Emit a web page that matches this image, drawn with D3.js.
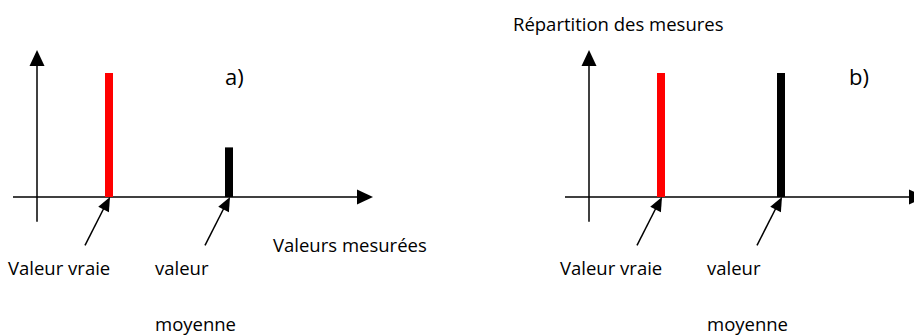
<!DOCTYPE html>
<html>
<head>
<meta charset="utf-8">
<script src="https://cdn.jsdelivr.net/npm/d3@7"></script>
<style>
  body { margin: 0; background: #fff; }
  text { font-family: "Open Sans", Lato, sans-serif; fill: #000; }
</style>
</head>
<body>
<div id="chart"></div>
<script>
// measured values: true value and mean value positions on the x axis, bar heights per panel
let categories = ["Valeur vraie", "valeur moyenne"];
let positions = [3, 8];
let colors = ["#ff0000", "#000000"];
let heights_a = [1, 0.4];
let heights_b = [1, 1];
let panels = ["a)", "b)"];

let config_size = {
    svg_width: 914,
    svg_height: 335,
    panel_left: [37, 589],
    panel_label_x: [188, 260],
    axis_y: 197,
    font: 18.5,
};

let svg = d3.select("#chart").append("svg")
    .attr("width", config_size.svg_width).attr("height", config_size.svg_height);

let x = d3.scaleLinear().domain([0, 15]).range([0, 360]);
let y = d3.scaleLinear().domain([0, 1]).range([0, -124]);

function arrowHead(g, x1, y1, x2, y2, len, half) {
    let a = Math.atan2(y2 - y1, x2 - x1);
    let bx = x2 - len * Math.cos(a), by = y2 - len * Math.sin(a);
    let px = -Math.sin(a) * half, py = Math.cos(a) * half;
    g.append("path")
        .attr("d", `M${x2},${y2}L${bx + px},${by + py}L${bx - px},${by - py}Z`)
        .attr("fill", "#000");
}

function drawPanel(i, heights) {
    let g = svg.append("g")
        .attr("transform", `translate(${config_size.panel_left[i]},${config_size.axis_y})`);

    // x axis
    g.append("line").attr("x1", x(-1)).attr("x2", x(14) - 10)
        .attr("y1", 0).attr("y2", 0).attr("stroke", "#000").attr("stroke-width", 1.5);
    arrowHead(g, x(-1), 0, x(14), 0, 16, 7.5);
    // y axis
    g.append("line").attr("x1", 0).attr("x2", 0)
        .attr("y1", y(-0.2)).attr("y2", y(1.185) + 10).attr("stroke", "#000").attr("stroke-width", 1.5);
    arrowHead(g, 0, y(-0.2), 0, y(1.185), 16, 7.5);

    // bars
    g.selectAll("rect.bar").data(heights).join("rect").classed("bar", true)
        .attr("x", (d, j) => x(positions[j]) - 4)
        .attr("width", 8)
        .attr("y", d => y(d))
        .attr("height", d => -y(d))
        .attr("fill", (d, j) => colors[j]);

    // pointer arrows
    positions.forEach(p => {
        let x1 = x(p - 1), y1 = y(-0.39), x2 = x(p) + 1, y2 = 0;
        g.append("line").attr("x1", x1).attr("y1", y1).attr("x2", x2 - 5).attr("y2", y2 + 9)
            .attr("stroke", "#000").attr("stroke-width", 1.5);
        arrowHead(g, x1, y1, x2, y2, 14, 6);
    });

    // labels
    g.append("text").attr("x", x(positions[0]) - 101).attr("y", 78)
        .attr("font-size", config_size.font).text(categories[0]);
    let words = categories[1].split(" ");
    g.append("text").attr("x", x(positions[1]) - 74).attr("y", 78)
        .attr("font-size", config_size.font).text(words[0]);
    g.append("text").attr("x", x(positions[1]) - 74).attr("y", 134)
        .attr("font-size", config_size.font).text(words[1]);

    g.append("text").attr("x", config_size.panel_label_x[i]).attr("y", -112)
        .attr("font-size", 22).text(panels[i]);
}

drawPanel(0, heights_a);
drawPanel(1, heights_b);

svg.append("text").attr("x", 273).attr("y", 252).attr("font-size", config_size.font).text("Valeurs mesurées");
svg.append("text").attr("x", 513).attr("y", 31).attr("font-size", config_size.font).text("Répartition des mesures");
</script>
</body>
</html>
